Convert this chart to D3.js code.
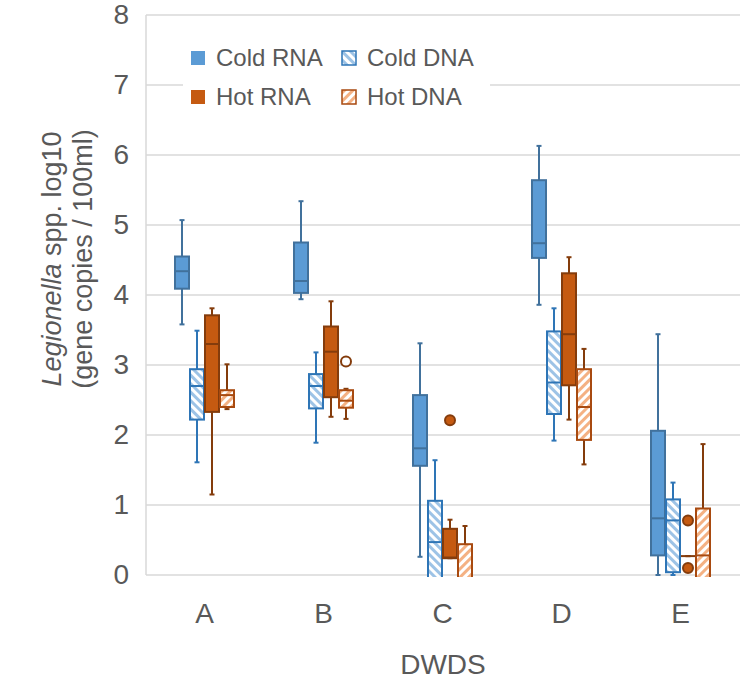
<!DOCTYPE html>
<html>
<head>
<meta charset="utf-8">
<script src="https://cdn.jsdelivr.net/npm/d3@7"></script>
<style>
  body { margin: 0; background: #fff; }
  text { font-family: "Liberation Sans", Arial, sans-serif; fill: #595959; }
</style>
</head>
<body>
<div id="chart"></div>
<script>
// categories and series
var categories = ["A", "B", "C", "D", "E"];
var seriesNames = ["Cold RNA", "Cold DNA", "Hot RNA", "Hot DNA"];
var yTicks = [0, 1, 2, 3, 4, 5, 6, 7, 8];

// [min, q1, median, q3, max] per category (values below 0 are cut off by the axis)
var coldRNA = [[3.58, 4.09, 4.34, 4.55, 5.07], [3.94, 4.03, 4.20, 4.75, 5.34], [0.26, 1.56, 1.81, 2.57, 3.31], [3.86, 4.53, 4.74, 5.64, 6.13], [0.00, 0.28, 0.81, 2.06, 3.44]];
var coldDNA = [[1.61, 2.22, 2.70, 2.94, 3.49], [1.89, 2.38, 2.70, 2.87, 3.18], [-1.0, -0.5, 0.47, 1.06, 1.64], [1.92, 2.30, 2.75, 3.48, 3.81], [0.00, 0.04, 0.78, 1.08, 1.32]];
var hotRNA  = [[1.15, 2.33, 3.30, 3.71, 3.81], [2.26, 2.54, 3.19, 3.55, 3.91], [0.24, 0.24, 0.25, 0.66, 0.79], [2.22, 2.71, 3.44, 4.31, 4.54], [0.27, 0.27, 0.27, 0.27, 0.27]];
var hotDNA  = [[2.37, 2.40, 2.57, 2.64, 3.01], [2.23, 2.39, 2.49, 2.64, 2.66], [-1.0, -0.5, -0.2, 0.44, 0.70], [1.58, 1.93, 2.40, 2.94, 3.23], [-1.0, -0.4, 0.28, 0.95, 1.87]];

// outliers
var hotRNAOut = [[], [], [2.21], [], [0.78, 0.10]];
var hotDNAOut = [[], [3.05], [], [], []];

var W = 748, H = 681;
var plot = {left: 146, right: 740, top: 15, bottom: 575};

var styles = {
  "Cold RNA": {fill: "#5B9BD5", stroke: "#41719C", whisker: "#41719C"},
  "Cold DNA": {fill: "url(#hatchBlue)", stroke: "#2E75B6", whisker: "#2E75B6"},
  "Hot RNA":  {fill: "#C55A11", stroke: "#843C0C", whisker: "#843C0C"},
  "Hot DNA":  {fill: "url(#hatchOrange)", stroke: "#A84A10", whisker: "#843C0C"}
};

var svg = d3.select("#chart").append("svg")
  .attr("width", W).attr("height", H);

var defs = svg.append("defs");
function hatch(id, color, angle) {
  var p = defs.append("pattern")
    .attr("id", id)
    .attr("patternUnits", "userSpaceOnUse")
    .attr("width", 6).attr("height", 6)
    .attr("patternTransform", "rotate(" + angle + ")");
  p.append("rect").attr("width", 6).attr("height", 6).attr("fill", "#fff");
  p.append("rect").attr("width", 3).attr("height", 6).attr("fill", color);
}
hatch("hatchBlue", "#9DC3E6", -45);
hatch("hatchOrange", "#F4B183", 45);

defs.append("clipPath").attr("id", "plotClip")
  .append("rect")
  .attr("x", plot.left).attr("y", 0)
  .attr("width", plot.right - plot.left).attr("height", plot.bottom + 2);

var x0 = d3.scaleBand().domain(categories).range([145, 740]);
var x1 = d3.scaleBand().domain(seriesNames).range([-30, 30]);
var y = d3.scaleLinear().domain([0, 8]).range([plot.bottom, plot.top]);

// gridlines
svg.append("g")
  .selectAll("line")
  .data(yTicks)
  .enter().append("line")
  .attr("x1", plot.left).attr("x2", plot.right)
  .attr("y1", function(d) { return y(d); })
  .attr("y2", function(d) { return y(d); })
  .attr("stroke", "#d9d9d9")
  .attr("stroke-width", 1.5);

// vertical axis line
svg.append("line")
  .attr("x1", plot.left).attr("x2", plot.left)
  .attr("y1", plot.top).attr("y2", plot.bottom)
  .attr("stroke", "#d9d9d9").attr("stroke-width", 1.5);

// y axis labels
var yAxis = svg.append("g")
  .attr("transform", "translate(" + plot.left + ",0)")
  .call(d3.axisLeft(y).tickValues(yTicks).tickSize(0).tickPadding(17));
yAxis.select(".domain").remove();
yAxis.selectAll("text")
  .attr("font-size", 28)
  .attr("font-family", "Liberation Sans, Arial, sans-serif")
  .attr("fill", "#595959");

// x axis labels
var xAxis = svg.append("g")
  .attr("transform", "translate(0," + plot.bottom + ")")
  .call(d3.axisBottom(x0).tickSize(0).tickPadding(28));
xAxis.select(".domain").remove();
xAxis.selectAll("text")
  .attr("font-size", 28)
  .attr("font-family", "Liberation Sans, Arial, sans-serif")
  .attr("fill", "#595959");

// axis titles
svg.append("text")
  .attr("x", (plot.left + plot.right) / 2)
  .attr("y", 674)
  .attr("text-anchor", "middle")
  .attr("font-size", 28)
  .text("DWDS");

var yTitle = svg.append("text")
  .attr("transform", "translate(61,259) rotate(-90)")
  .attr("text-anchor", "middle")
  .attr("font-size", 27);
yTitle.append("tspan").attr("font-style", "italic").text("Legionella");
yTitle.append("tspan").text(" spp. log10");
svg.append("text")
  .attr("transform", "translate(92,259) rotate(-90)")
  .attr("text-anchor", "middle")
  .attr("font-size", 27)
  .text("(gene copies / 100ml)");

// boxes
var seriesData = [
  {name: "Cold RNA", stats: coldRNA, out: null},
  {name: "Cold DNA", stats: coldDNA, out: null},
  {name: "Hot RNA", stats: hotRNA, out: hotRNAOut},
  {name: "Hot DNA", stats: hotDNA, out: hotDNAOut}
];

var boxW = 14, capW = 5;
var boxes = svg.append("g").attr("clip-path", "url(#plotClip)");

seriesData.forEach(function(s) {
  var st = styles[s.name];
  var g = boxes.append("g");
  s.stats.forEach(function(v, i) {
    var cx = x0(categories[i]) + x0.bandwidth() / 2 + x1(s.name) + x1.bandwidth() / 2;
    // whiskers
    g.append("line")
      .attr("x1", cx).attr("x2", cx)
      .attr("y1", y(v[0])).attr("y2", y(v[4]))
      .attr("stroke", st.whisker).attr("stroke-width", 2);
    [v[0], v[4]].forEach(function(w) {
      g.append("line")
        .attr("x1", cx - capW / 2).attr("x2", cx + capW / 2)
        .attr("y1", y(w)).attr("y2", y(w))
        .attr("stroke", st.whisker).attr("stroke-width", 2);
    });
    // box
    g.append("rect")
      .attr("x", cx - boxW / 2)
      .attr("y", y(v[3]))
      .attr("width", boxW)
      .attr("height", Math.max(0, y(v[1]) - y(v[3])))
      .attr("fill", st.fill)
      .attr("stroke", st.stroke)
      .attr("stroke-width", 2);
    // median
    g.append("line")
      .attr("x1", cx - boxW / 2).attr("x2", cx + boxW / 2)
      .attr("y1", y(v[2])).attr("y2", y(v[2]))
      .attr("stroke", st.stroke).attr("stroke-width", 2);
    // outliers
    if (s.out) {
      s.out[i].forEach(function(o) {
        g.append("circle")
          .attr("cx", cx).attr("cy", y(o))
          .attr("r", 5)
          .attr("fill", s.name === "Hot RNA" ? "#C55A11" : "#fff")
          .attr("stroke", "#843C0C")
          .attr("stroke-width", 2);
      });
    }
  });
});

// legend
var legend = svg.append("g");
legend.append("rect")
  .attr("x", 183).attr("y", 36)
  .attr("width", 307).attr("height", 80)
  .attr("fill", "#fff");
var legendPos = [
  {name: "Cold RNA", x: 191, y: 58},
  {name: "Cold DNA", x: 342, y: 58},
  {name: "Hot RNA", x: 191, y: 97},
  {name: "Hot DNA", x: 342, y: 97}
];
legendPos.forEach(function(d) {
  var st = styles[d.name];
  legend.append("rect")
    .attr("x", d.x).attr("y", d.y - 7)
    .attr("width", 14).attr("height", 14)
    .attr("fill", st.fill)
    .attr("stroke", st.stroke)
    .attr("stroke-width", d.name.indexOf("DNA") > 0 ? 1.5 : 0);
  legend.append("text")
    .attr("x", d.x + 25).attr("y", d.y)
    .attr("dy", "0.35em")
    .attr("font-size", 24)
    .text(d.name);
});
</script>
</body>
</html>
